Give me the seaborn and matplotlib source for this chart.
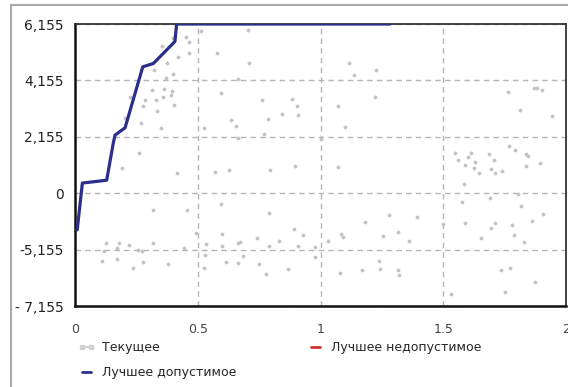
import numpy as np
import matplotlib
matplotlib.use("Agg")
import matplotlib.pyplot as plt
from matplotlib.lines import Line2D
from matplotlib.patches import Rectangle
import seaborn as sns

# y values are in tick-step units: 0 is the "0" tick, each step is one labelled tick
y_tick_pos = [-2, -1, 0, 1, 2, 3]
y_tick_labels = ["- 7,155", "-5,155", "0", "2,155", "4,155", "6,155"]
x_ticks = [0, 0.5, 1, 1.5, 2]
x_tick_labels = ["0", "0.5", "1", "1.5", "2"]

# "Лучшее допустимое" (best feasible) trace
best_x = [0.009, 0.030, 0.129, 0.156, 0.163, 0.204, 0.276, 0.319, 0.360, 0.407, 0.414, 1.283]
best_y = [-0.65, 0.18, 0.23, 0.89, 1.03, 1.16, 2.24, 2.30, 2.48, 2.69, 3.0, 3.0]

# "Текущее" (current) points
cur_x = [0.400, 0.353, 0.374, 0.418, 0.451, 0.466, 0.466, 0.322, 0.371, 0.400,
         0.312, 0.363, 0.394, 0.330, 0.357, 0.390, 0.285, 0.224, 0.276, 0.403,
         0.335, 0.204, 0.268, 0.349, 0.262, 0.193, 0.414,
         0.514, 0.705, 0.577, 0.710, 0.665, 0.595, 0.763, 0.883, 0.904, 0.907,
         0.844, 0.785, 0.635, 0.655, 0.525, 0.770, 0.663, 1.002, 1.116, 1.138,
         1.226, 1.223, 1.071, 1.101, 0.570, 0.629, 0.793, 0.896, 1.071,
         1.765, 1.871, 1.882, 1.902, 1.814, 1.943, 1.768, 1.791, 1.549, 1.613,
         1.601, 1.688, 1.838, 1.846, 1.560, 1.631, 1.708, 1.587, 1.838, 1.893,
         1.624, 1.695, 1.646, 1.712, 1.741, 1.585, 1.806, 1.690,
         0.125, 0.179, 0.221, 0.316, 0.319, 0.455, 0.170, 0.119, 0.258, 0.272,
         0.445, 0.493, 0.109, 0.170, 0.276, 0.235, 0.380,
         0.595, 0.791, 0.598, 0.534, 0.598, 0.663, 0.672, 0.740, 0.832, 0.891,
         0.930, 0.907, 0.789, 0.978, 0.530, 0.615, 0.665, 0.686, 0.751, 0.778,
         0.869, 0.525, 0.978, 1.031, 1.082, 1.092, 1.181, 1.081, 1.170, 1.240,
         1.576, 1.818, 1.905, 1.279, 1.394, 1.587, 1.711, 1.779, 1.862, 1.693,
         1.499, 1.253, 1.314, 1.362, 1.654, 1.789, 1.828, 1.242, 1.316, 1.321,
         1.735, 1.771, 1.873, 1.750, 1.532]
cur_y = [2.76, 2.61, 2.31, 2.42, 2.77, 2.68, 2.48, 2.19, 2.05, 2.11,
         1.83, 1.84, 1.81, 1.65, 1.71, 1.74, 1.66, 1.70, 1.54, 1.57,
         1.45, 1.34, 1.25, 1.16, 0.71, 0.45, 0.35,
         2.88, 2.90, 2.48, 2.30, 2.03, 1.78, 1.65, 1.67, 1.54, 1.38,
         1.40, 1.31, 1.29, 1.19, 1.15, 1.05, 0.98, 0.96, 2.31, 2.09,
         2.19, 1.71, 1.54, 1.18, 0.38, 0.42, 0.41, 0.48, 0.47,
         1.80, 1.87, 1.86, 1.83, 1.47, 1.37, 0.83, 0.77, 0.71, 0.71,
         0.64, 0.69, 0.69, 0.66, 0.58, 0.56, 0.59, 0.50, 0.48, 0.53,
         0.45, 0.43, 0.36, 0.35, 0.39, 0.16, -0.02, -0.09,
         -0.89, -0.89, -0.91, -0.88, -0.29, -0.29, -0.98, -1.03, -1.01, -1.02,
         -0.97, -0.71, -1.21, -1.17, -1.22, -1.32, -1.25,
         -0.20, -0.35, -0.73, -0.90, -0.94, -0.89, -0.87, -0.79, -0.84, -0.64,
         -0.74, -0.94, -0.94, -0.95, -1.10, -1.22, -1.24, -1.12, -1.25, -1.44,
         -1.35, -1.32, -1.13, -0.85, -0.73, -0.77, -0.51, -1.41, -1.36, -1.21,
         -0.16, -0.22, -0.37, -0.38, -0.42, -0.53, -0.52, -0.57, -0.50, -0.62,
         -0.54, -0.76, -0.69, -0.84, -0.79, -0.74, -0.87, -1.34, -1.36, -1.45,
         -1.37, -1.32, -1.57, -1.75, -1.78]

labels = ["Текущее", "Лучшее недопустимое", "Лучшее допустимое"]

sns.set_style("white")
plt.rcParams["font.family"] = ["DejaVu Sans"]

fig = plt.figure(figsize=(5.68, 3.87), dpi=100)
ax = fig.add_axes([75 / 568, 1 - 306 / 387, 491 / 568, 282 / 387])

sns.scatterplot(x=cur_x, y=cur_y, color="#c2c2c2", s=6, edgecolor=None,
                legend=False, ax=ax, zorder=2)
sns.lineplot(x=best_x, y=best_y, sort=False, estimator=None, color="#2b2f8c",
             linewidth=2.3, ax=ax, zorder=4)

ax.set_xlim(0, 2)
ax.set_ylim(-2, 3)
ax.set_xticks(x_ticks)
ax.set_xticklabels(x_tick_labels, fontsize=9, color="#444444")
ax.set_yticks(y_tick_pos)
ax.set_yticklabels(y_tick_labels, fontsize=10, color="#222222")
ax.tick_params(axis="x", direction="out", length=4, width=1, pad=8, colors="#444444")
ax.tick_params(axis="y", direction="out", length=6, width=1, pad=2)
ax.set_xlabel("")
ax.set_ylabel("")

ax.grid(True, color="#b4b4b4", linestyle=(0, (4, 3)), linewidth=1)
ax.set_axisbelow(True)

for side in ["left", "bottom"]:
    ax.spines[side].set_color("#111111")
    ax.spines[side].set_linewidth(1.8)
for side in ["top", "right"]:
    ax.spines[side].set_color("#333333")
    ax.spines[side].set_linewidth(1.3)

handles = [
    Line2D([], [], color="#d2d2d2", marker="s", markersize=2.5, linewidth=1.5),
    Line2D([], [], color="#2b2f8c", linewidth=2),
    Line2D([], [], color="#d03030", linewidth=2),
]
fig.legend(handles, [labels[0], labels[2], labels[1]], ncol=2,
           loc="upper left", bbox_to_anchor=(72 / 568, 1 - 335 / 387),
           frameon=False, fontsize=9, handlelength=1.3, handletextpad=0.6,
           columnspacing=5.65, labelspacing=0.95, borderpad=0, numpoints=2)

# outer panel frame
fig.add_artist(Rectangle((11 / 568, -0.1), 1.2, 1.1 - 5 / 387,
                         transform=fig.transFigure, fill=False,
                         edgecolor="#a8a8a8", linewidth=1.5, clip_on=False))

fig.savefig("out.png", dpi=100)
